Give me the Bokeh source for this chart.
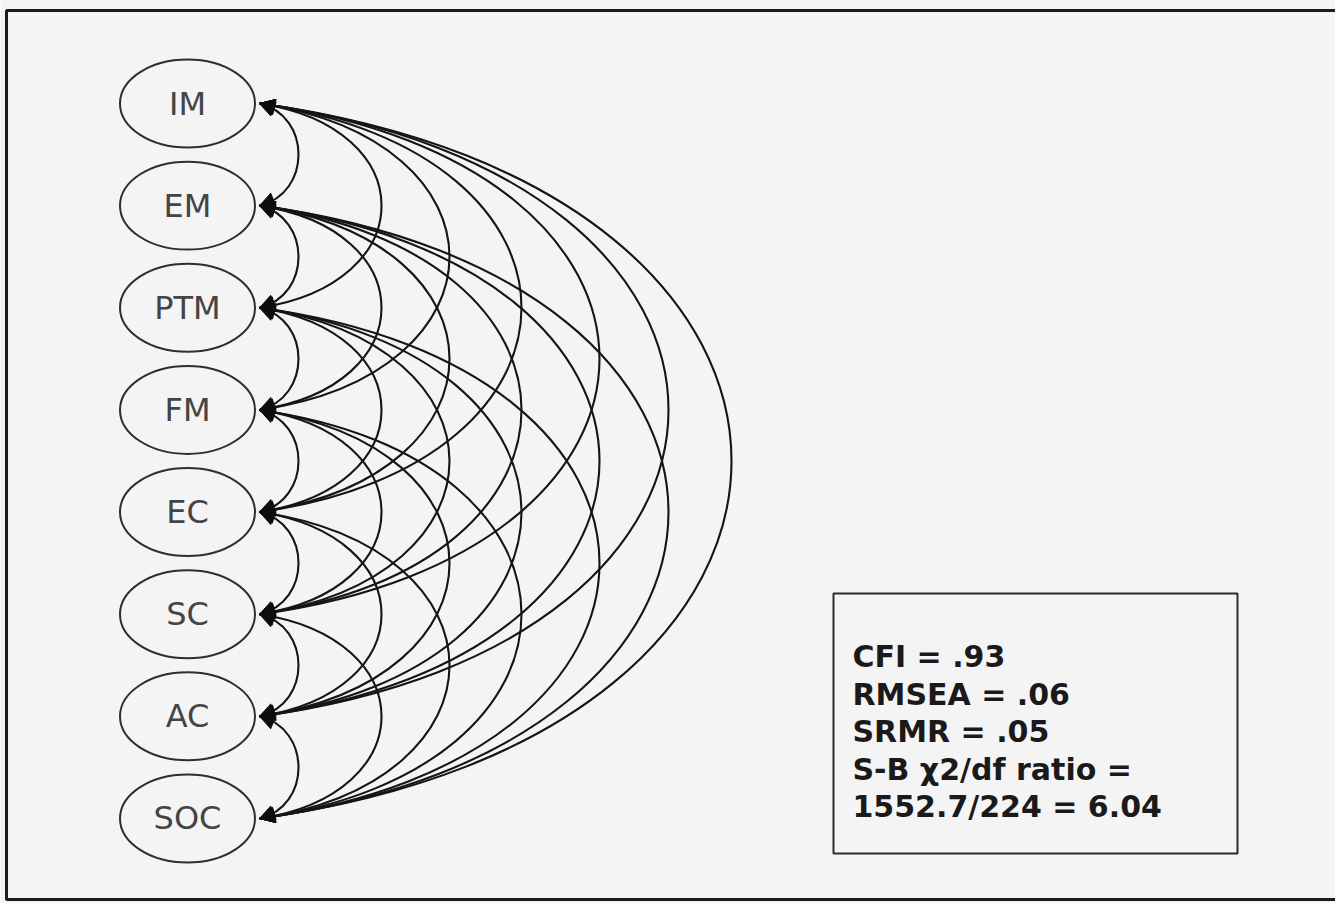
import numpy as np
from bokeh.plotting import figure
from bokeh.models import ColumnDataSource, Range1d, Arrow, NormalHead
from bokeh.core.properties import value
from bokeh.embed import file_html
from bokeh.resources import INLINE

# ---- data ----
factors = ["IM", "EM", "PTM", "FM", "EC", "SC", "AC", "SOC"]
fit_lines = ["CFI = .93", "RMSEA = .06", "SRMR = .05",
             "S-B \u03c72/df ratio =", "1552.7/224 = 6.04"]

# ---- layout / style constants (pixels) ----
W, H = 1335, 903
BG = "#f4f4f4"
NODE_X, NODE_Y0, NODE_DY = 187, 103, 102.14
NODE_W, NODE_H = 135, 88
ANCHOR_X = 259
BULGE = [39, 122, 190, 262, 340, 409, 472]   # peak offset of curve by span (in nodes)
TILT = 0.12                                   # vertical lean of the curve's control points
BOX = dict(left=833, right=1237, top=593, bottom=853)
TXT_X, TXT_Y0, TXT_DY = 852, 656, 37.5

node_y = [NODE_Y0 + i * NODE_DY for i in range(len(factors))]


def bez(t, a, b, c, d):
    return (1 - t) ** 3 * a + 3 * t * (1 - t) ** 2 * b + 3 * t ** 2 * (1 - t) * c + t ** 3 * d


# all pairwise covariances, drawn as cubic curves
x0s, y0s, x1s, y1s, cx0s, cy0s, cx1s, cy1s = [], [], [], [], [], [], [], []
axs, ays, axe, aye = [], [], [], []
for i in range(len(factors)):
    for j in range(i + 1, len(factors)):
        k = j - i
        d = BULGE[k - 1] / 0.75
        ya, yb = node_y[i], node_y[j]
        span = yb - ya
        cxa, cya, cxb, cyb = ANCHOR_X + d, ya + TILT * span, ANCHOR_X + d, yb - TILT * span
        x0s.append(ANCHOR_X); y0s.append(ya)
        x1s.append(ANCHOR_X); y1s.append(yb)
        cx0s.append(cxa); cy0s.append(cya)
        cx1s.append(cxb); cy1s.append(cyb)
        for t, yt in ((0.1, ya), (0.9, yb)):
            axs.append(bez(t, ANCHOR_X, cxa, cxb, ANCHOR_X))
            ays.append(bez(t, ya, cya, cyb, yb))
            axe.append(ANCHOR_X); aye.append(yt)

curves = ColumnDataSource(dict(x0=x0s, y0=y0s, x1=x1s, y1=y1s,
                               cx0=cx0s, cy0=cy0s, cx1=cx1s, cy1=cy1s))
heads = ColumnDataSource(dict(xs=axs, ys=ays, xe=axe, ye=aye))
nodes = ColumnDataSource(dict(x=[NODE_X] * len(factors), y=node_y, label=factors))
stats = ColumnDataSource(dict(x=[TXT_X] * len(fit_lines),
                              y=[TXT_Y0 + i * TXT_DY for i in range(len(fit_lines))],
                              text=fit_lines))

p = figure(width=W, height=H, x_range=Range1d(0, W), y_range=Range1d(H, 0),
           x_axis_type=None, y_axis_type=None, toolbar_location=None,
           output_backend="svg", min_border=0,
           background_fill_color=BG, border_fill_color=BG, outline_line_color=None)
p.grid.visible = False

# outer frame (left, top, bottom)
p.line(x=[W + 5, 6, 6, W + 5], y=[10, 10, 899, 899], line_color="#1c1c1c", line_width=3)

# covariance curves
p.bezier(x0="x0", y0="y0", x1="x1", y1="y1", cx0="cx0", cy0="cy0", cx1="cx1", cy1="cy1",
         source=curves, line_color="#151515", line_width=2.1)

p.add_layout(Arrow(x_start="xs", y_start="ys", x_end="xe", y_end="ye", source=heads,
                   start=None, line_alpha=0,
                   end=NormalHead(size=15, fill_color="#0d0d0d", line_color="#0d0d0d",
                                  line_width=1)))

# latent factors
p.ellipse(x="x", y="y", width=NODE_W, height=NODE_H, source=nodes,
          fill_color=BG, line_color="#2e2e2e", line_width=2)
p.text(x="x", y="y", text="label", source=nodes, text_align="center",
       text_baseline="middle", text_font=value("DejaVu Sans"),
       text_font_size="32px", text_color="#444444")

# fit statistics box
p.quad(left=BOX["left"], right=BOX["right"], top=BOX["top"], bottom=BOX["bottom"],
       fill_alpha=0, line_color="#2a2a2a", line_width=2)
p.text(x="x", y="y", text="text", source=stats, text_align="left",
       text_baseline="alphabetic", text_font=value("DejaVu Sans"),
       text_font_style="bold", text_font_size="30px", text_color="#1a1a1a")

open("out.html", "w").write(file_html(p, INLINE))
